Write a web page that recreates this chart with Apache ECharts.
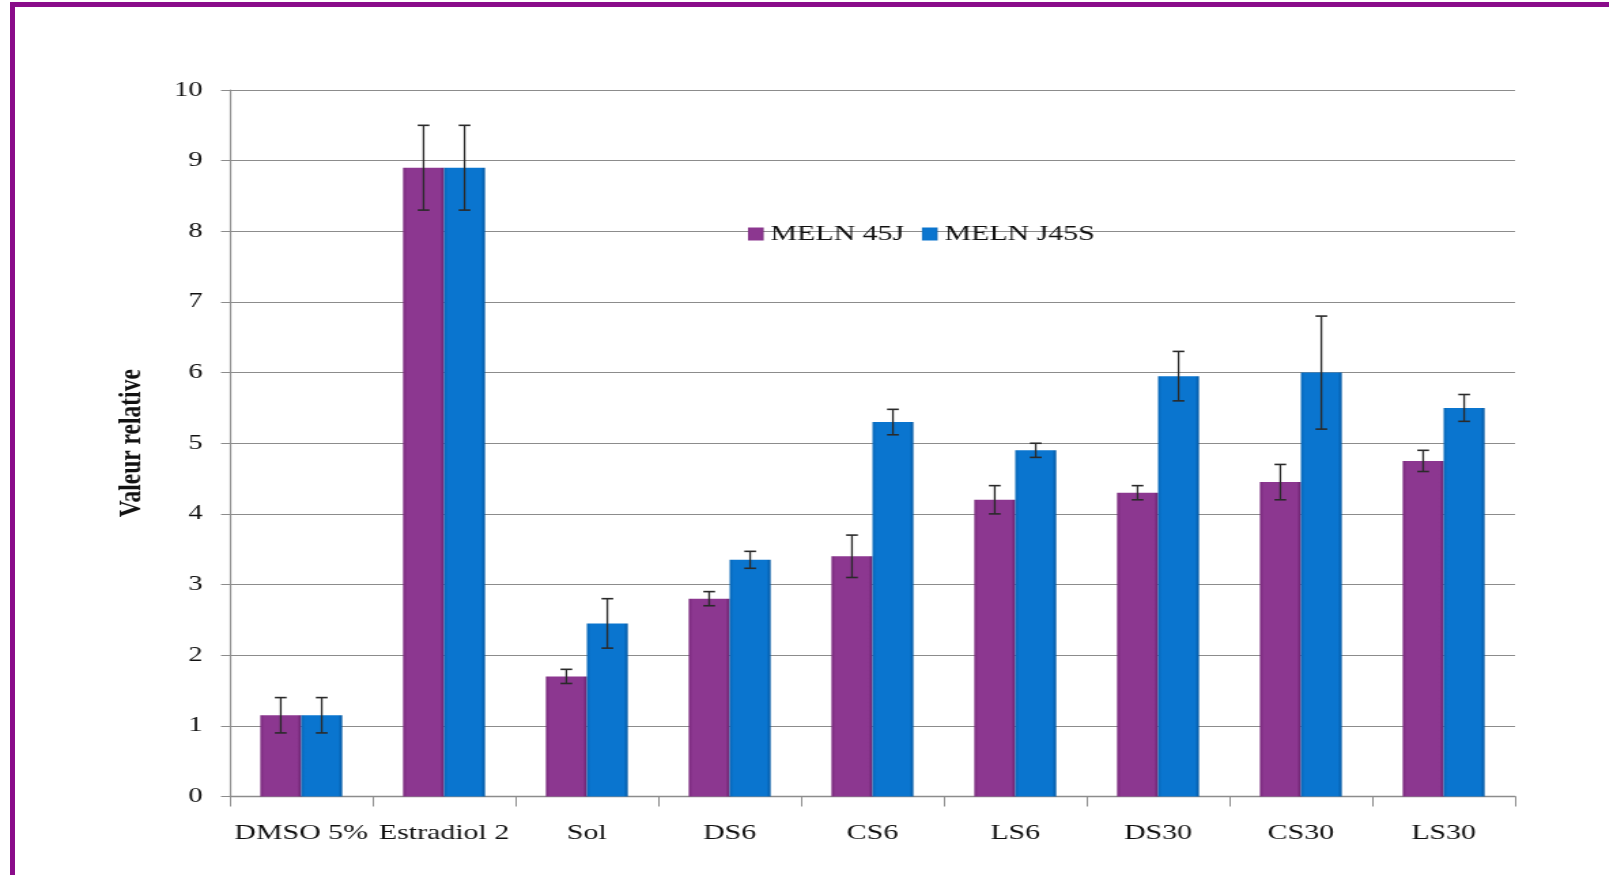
<!DOCTYPE html>
<html>
<head>
<meta charset="utf-8">
<script src="https://cdn.jsdelivr.net/npm/echarts@6/dist/echarts.min.js"></script>
<style>
html,body{margin:0;padding:0;background:#fff;overflow:hidden;width:1609px;height:875px;}
#frame{position:absolute;left:10px;top:2px;width:1700px;height:1000px;border:5px solid #8a0c8a;box-sizing:border-box;}
#chart{position:absolute;left:0;top:0;width:1183px;height:875px;transform:scaleX(1.36);transform-origin:0 0;}
</style>
</head>
<body>
<div id="frame"></div>
<div id="chart"></div>
<script>
var categories = ['DMSO 5%', 'Estradiol 2', 'Sol', 'DS6', 'CS6', 'LS6', 'DS30', 'CS30', 'LS30'];
var seriesNames = ['MELN 45J', 'MELN J45S'];
var values45J = [1.15, 8.9, 1.7, 2.8, 3.4, 4.2, 4.3, 4.45, 4.75];
var err45J = [0.25, 0.6, 0.1, 0.1, 0.3, 0.2, 0.1, 0.25, 0.15];
var valuesJ45S = [1.15, 8.9, 2.45, 3.35, 5.3, 4.9, 5.95, 6.0, 5.5];
var errJ45S = [0.25, 0.6, 0.35, 0.12, 0.18, 0.1, 0.35, 0.8, 0.19];
var yTicks = [0, 1, 2, 3, 4, 5, 6, 7, 8, 9, 10];

var BAR_FRAC = 0.287;
function errRender(sign, errArr) {
  return function (params, api) {
    var idx = api.value(0);
    var v = api.value(1);
    var e = errArr[idx];
    var band = api.size([1, 0])[0];
    var off = sign * band * BAR_FRAC / 2;
    var c = api.coord([idx, v]);
    var x = c[0] + off;
    var top = api.coord([idx, v + e])[1];
    var bot = api.coord([idx, v - e])[1];
    var cap = 4.3;
    var st = {stroke: '#2a2a2a', lineWidth: 1.3};
    var capSt = {stroke: '#2a2a2a', lineWidth: 1.6};
    return {
      type: 'group',
      children: [
        {type: 'line', shape: {x1: x, y1: top, x2: x, y2: bot}, style: st},
        {type: 'line', shape: {x1: x - cap, y1: top, x2: x + cap, y2: top}, style: capSt},
        {type: 'line', shape: {x1: x - cap, y1: bot, x2: x + cap, y2: bot}, style: capSt}
      ]
    };
  };
}
function grad(a, b, c) {
  return {type: 'linear', x: 0, y: 0, x2: 1, y2: 0, colorStops: [
    {offset: 0, color: a}, {offset: 0.1, color: b}, {offset: 0.9, color: b}, {offset: 1, color: c}]};
}
var purple = grad('#7a2a7d', '#8c3790', '#6a226d');
var blue = grad('#0868b8', '#0a75cf', '#0559a3');

var chart = echarts.init(document.getElementById('chart'));
chart.setOption({
  animation: false,
  textStyle: {fontFamily: 'Liberation Serif'},
  legend: {
    data: seriesNames,
    left: 545, top: 218,
    itemWidth: 11.5, itemHeight: 13, itemGap: 13,
    icon: 'rect',
    textStyle: {fontSize: 22, color: '#111', fontFamily: 'Liberation Serif'}
  },
  grid: {left: 169, right: 69, top: 90, bottom: 78.5},
  xAxis: {
    type: 'category',
    data: categories,
    axisLine: {lineStyle: {color: '#8c8c8c', width: 1.3}},
    axisTick: {show: true, length: 10, lineStyle: {color: '#8c8c8c'}},
    axisLabel: {fontSize: 22, color: '#111', margin: 26, interval: 0, fontFamily: 'Liberation Serif'}
  },
  yAxis: {
    type: 'value',
    min: 0, max: 10, interval: 1,
    name: 'Valeur relative',
    nameLocation: 'middle',
    nameRotate: 90,
    nameGap: 60,
    nameTextStyle: {fontSize: 23.5, fontWeight: 'bold', color: '#111', fontFamily: 'Liberation Serif'},
    axisLine: {show: true, lineStyle: {color: '#8c8c8c', width: 1.2}},
    axisTick: {show: true, length: 6.5, lineStyle: {color: '#8c8c8c'}},
    axisLabel: {fontSize: 21, color: '#111', margin: 20, fontFamily: 'Liberation Serif',
      formatter: function (v) { return yTicks.indexOf(v) >= 0 ? String(v) : ''; }},
    splitLine: {lineStyle: {color: '#8c8c8c', width: 1.2}}
  },
  series: [
    {name: seriesNames[0], type: 'bar', data: values45J, barWidth: (BAR_FRAC * 100) + '%', barGap: '0%',
      itemStyle: {color: purple}},
    {name: seriesNames[1], type: 'bar', data: valuesJ45S, barWidth: (BAR_FRAC * 100) + '%', barGap: '0%',
      itemStyle: {color: blue}},
    {type: 'custom', name: 'err1', data: values45J.map(function (v, i) { return [i, v]; }),
      renderItem: errRender(-1, err45J), z: 10, silent: true},
    {type: 'custom', name: 'err2', data: valuesJ45S.map(function (v, i) { return [i, v]; }),
      renderItem: errRender(1, errJ45S), z: 10, silent: true}
  ]
});
</script>
</body>
</html>
